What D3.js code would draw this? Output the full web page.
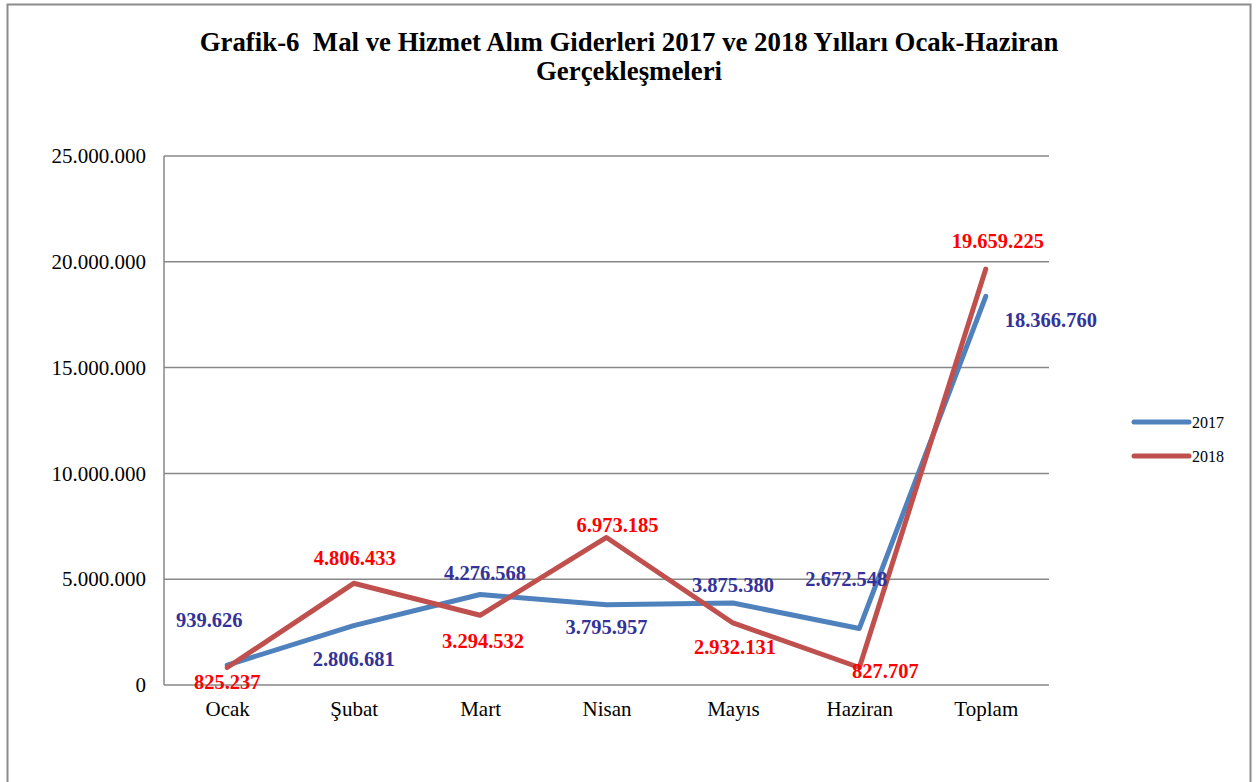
<!DOCTYPE html>
<html lang="tr">
<head>
<meta charset="utf-8">
<script src="https://d3js.org/d3.v7.min.js"></script>
<style>
  body { margin: 0; background: #fff; }
  svg { font-family: "Liberation Serif", "Times New Roman", serif; }
</style>
</head>
<body>
<svg id="chart" width="1256" height="782"></svg>
<script>
// data
var months = ["Ocak", "Şubat", "Mart", "Nisan", "Mayıs", "Haziran", "Toplam"];
var values2017 = [939626, 2806681, 4276568, 3795957, 3875380, 2672548, 18366760];
var values2018 = [825237, 4806433, 3294532, 6973185, 2932131, 827707, 19659225];
var yTicks = [0, 5000000, 10000000, 15000000, 20000000, 25000000];
var seriesNames = ["2017", "2018"];

// label offsets (dx, dy from the point)
var offsets2017 = [[-18, -45], [0, 33], [5, -22], [0, 22], [0, -18], [-13, -50], [65, 23]];
var offsets2018 = [[0, 14], [1, -25], [3, 26], [11, -13], [2, 24], [26, 3], [12, -28]];

var svg = d3.select("#chart");
var margin = { left: 164, right: 1049, top: 156, bottom: 685 };

var trFormat = d3.formatLocale({ decimal: ",", thousands: ".", grouping: [3], currency: ["", ""] }).format(",d");

// outer frame
svg.append("rect")
    .attr("x", 7.5).attr("y", 4.5)
    .attr("width", 1243).attr("height", 800)
    .attr("fill", "none").attr("stroke", "#8c8c8c").attr("stroke-width", 2);

// title
var title = svg.append("text")
    .attr("text-anchor", "middle")
    .attr("font-weight", "bold")
    .attr("font-size", 26.8);
title.append("tspan").attr("x", 629).attr("y", 51).attr("xml:space", "preserve")
    .text("Grafik-6  Mal ve Hizmet Alım Giderleri 2017 ve 2018 Yılları Ocak-Haziran");
title.append("tspan").attr("x", 629).attr("y", 80).text("Gerçekleşmeleri");

var x = d3.scalePoint().domain(months).range([margin.left, margin.right]).padding(0.5);
var y = d3.scaleLinear().domain([0, 25000000]).range([margin.bottom, margin.top]);

// gridlines
svg.append("g").selectAll("line")
    .data(yTicks)
    .join("line")
    .attr("x1", margin.left).attr("x2", margin.right)
    .attr("y1", d => y(d)).attr("y2", d => y(d))
    .attr("stroke", "#878787").attr("stroke-width", 1.5);

svg.append("line")
    .attr("x1", margin.left).attr("x2", margin.left)
    .attr("y1", margin.top).attr("y2", margin.bottom)
    .attr("stroke", "#878787").attr("stroke-width", 1.5);

// y axis labels
var yAxis = d3.axisLeft(y).tickValues(yTicks).tickFormat(trFormat).tickSize(0).tickPadding(18);
var yg = svg.append("g").attr("transform", "translate(" + margin.left + ",0)").call(yAxis);
yg.select(".domain").remove();
yg.selectAll("text").attr("font-family", "Liberation Serif").attr("font-size", 21).attr("fill", "#000");

// x axis labels
var xAxis = d3.axisBottom(x).tickSize(0).tickPadding(16);
var xg = svg.append("g").attr("transform", "translate(0," + margin.bottom + ")").call(xAxis);
xg.select(".domain").remove();
xg.selectAll("text").attr("font-family", "Liberation Serif").attr("font-size", 21).attr("fill", "#000");

var line = d3.line().x((d, i) => x(months[i])).y(d => y(d));

var series = [
  { name: seriesNames[0], values: values2017, color: "#4f81bd", label: "#333399", offsets: offsets2017 },
  { name: seriesNames[1], values: values2018, color: "#c0504d", label: "#ff0000", offsets: offsets2018 }
];

series.forEach(function (s) {
  svg.append("path")
      .datum(s.values)
      .attr("d", line)
      .attr("fill", "none")
      .attr("stroke", s.color)
      .attr("stroke-width", 5)
      .attr("stroke-linejoin", "round")
      .attr("stroke-linecap", "round");
});

series.forEach(function (s) {
  svg.append("g").selectAll("text")
      .data(s.values)
      .join("text")
      .attr("x", (d, i) => x(months[i]) + s.offsets[i][0])
      .attr("y", (d, i) => y(d) + s.offsets[i][1])
      .attr("dy", "0.35em")
      .attr("text-anchor", "middle")
      .attr("font-weight", "bold")
      .attr("font-size", 20.5)
      .attr("fill", s.label)
      .text(d => trFormat(d));
});

// legend
var legend = svg.append("g").selectAll("g")
    .data(series)
    .join("g")
    .attr("transform", (d, i) => "translate(1134," + (422 + i * 34) + ")");
legend.append("line")
    .attr("x1", 0).attr("x2", 55)
    .attr("stroke", d => d.color).attr("stroke-width", 5).attr("stroke-linecap", "round");
legend.append("text")
    .attr("x", 58).attr("dy", "0.35em")
    .attr("font-size", 16)
    .text(d => d.name);
</script>
</body>
</html>
